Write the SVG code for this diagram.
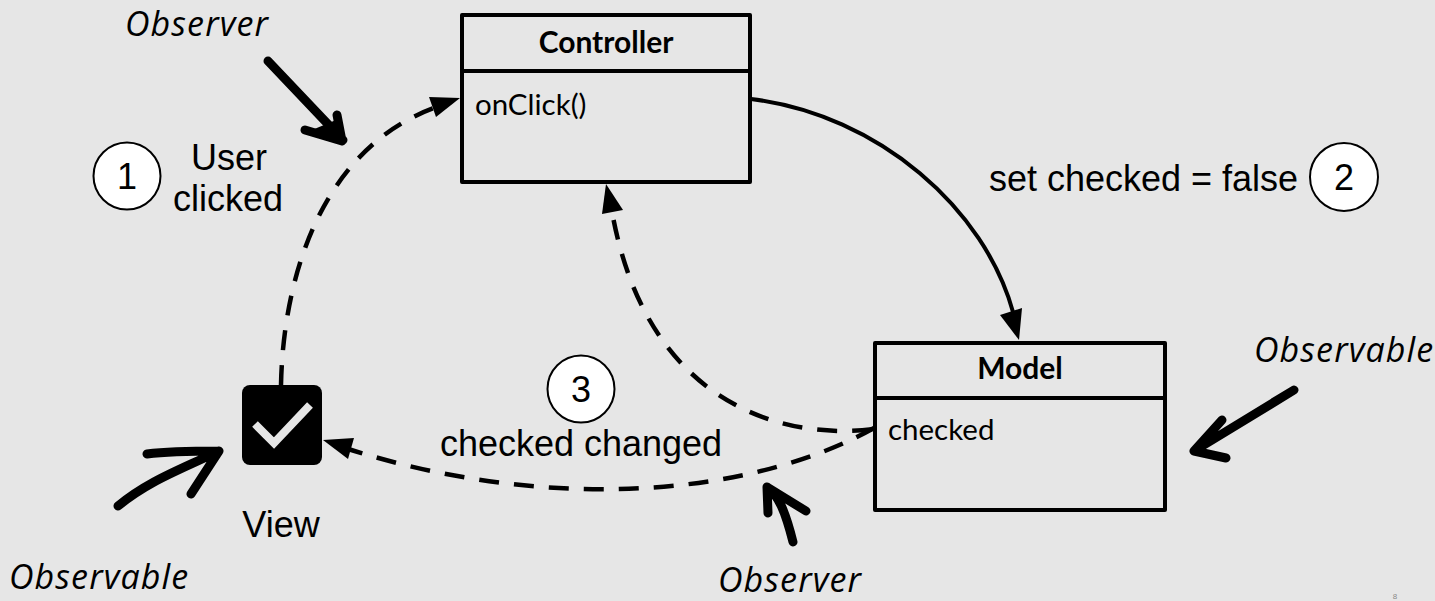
<svg xmlns="http://www.w3.org/2000/svg" width="1435" height="601" viewBox="0 0 1435 601">
<style>
.box{fill:none;stroke:#000;stroke-width:4;stroke-linejoin:round}
.dash{fill:none;stroke:#000;stroke-width:4.5;stroke-dasharray:20 15}
.solid{fill:none;stroke:#000;stroke-width:4}
.hand{fill:none;stroke:#000;stroke-width:9;stroke-linecap:round;stroke-linejoin:round}
.circ{fill:#fff;stroke:#000;stroke-width:2}
.head{fill:#000}
.t{font-family:"Liberation Sans",Arial,sans-serif;font-size:36px;fill:#000;text-anchor:middle}
.it{font-family:"Open Sans",sans-serif;font-style:italic;font-size:34px;letter-spacing:1.1px;fill:#000}
.title{font-family:Lato,sans-serif;font-weight:700;font-size:30px;fill:#000;text-anchor:middle}
.mem{font-family:Lato,sans-serif;font-size:29.5px;fill:#000}
</style>
<rect width="1435" height="601" fill="#e6e6e6"/>
<g id="connectors">
<path class="dash" d="M281 385C283 280 320 150 434 108"/>
<path class="head" d="M460 98L429 97L436 117Z"/>
<path class="solid" d="M751 99C880 115 985 210 1013 312"/>
<path class="head" d="M1019 340L1000 315L1022 308Z"/>
<path class="dash" d="M874 429C790 440 650 410 613 217" stroke-dashoffset="-2"/>
<path class="head" d="M606 184L602 214L623 210Z"/>
<path class="dash" d="M874 428C760 492 560 517 345 448"/>
<path class="head" d="M323 440L354 438L348 459Z"/>
</g>
<g id="controller">
<rect class="box" x="462" y="15" width="288" height="167"/>
<line class="box" x1="462" y1="71" x2="750" y2="71"/>
<text class="title" x="606" y="53">Controller</text>
<text class="mem" x="475" y="115">onClick()</text>
</g>
<g id="model">
<rect class="box" x="875" y="343" width="290" height="167"/>
<line class="box" x1="875" y1="398" x2="1165" y2="398"/>
<text class="title" x="1020" y="379">Model</text>
<text class="mem" x="888" y="440">checked</text>
</g>
<g id="view">
<rect x="242" y="385" width="80" height="80" rx="8" fill="#000"/>
<path d="M255 424L274 443L310 405" fill="none" stroke="#e6e6e6" stroke-width="8"/>
<text class="t" x="281" y="537">View</text>
</g>
<g id="step1">
<circle class="circ" cx="127" cy="176" r="33.500"/>
<text class="t" x="127" y="189">1</text>
<text class="t" x="229" y="170">User</text>
<text class="t" x="228" y="211">clicked</text>
</g>
<g id="step2">
<circle class="circ" cx="1344" cy="177" r="34"/>
<text class="t" x="1344" y="190">2</text>
<text class="t" x="1143.500" y="191">set checked = false</text>
</g>
<g id="step3">
<circle class="circ" cx="581" cy="389" r="33.500"/>
<text class="t" x="581" y="402">3</text>
<text class="t" x="581" y="456">checked changed</text>
</g>
<g id="observer-controller">
<text class="it" x="125" y="36">Observer</text>
<path class="hand" d="M268 61L343 140M337 115L342 141L305 130"/>
<path class="head" d="M345 142L312 130L336 120Z"/>
</g>
<g id="observable-view">
<text class="it" x="9" y="589">Observable</text>
<path class="hand" d="M118 506C150 480 180 470 219 451C190 451 170 451 147 454M219 451L191 494"/>
</g>
<g id="observable-model">
<text class="it" x="1254" y="362">Observable</text>
<path class="hand" d="M1294 390L1194 451L1222 420M1194 451L1226 458"/>
</g>
<g id="observer-model">
<text class="it" x="718" y="592">Observer</text>
<path class="hand" d="M793 542C785 510 778 495 767 487L768 513M767 487L806 511"/>
</g>
<text x="1395" y="599" font-family="Liberation Sans,sans-serif" font-size="8" fill="#8a8a8a" text-anchor="middle">8</text>
</svg>
